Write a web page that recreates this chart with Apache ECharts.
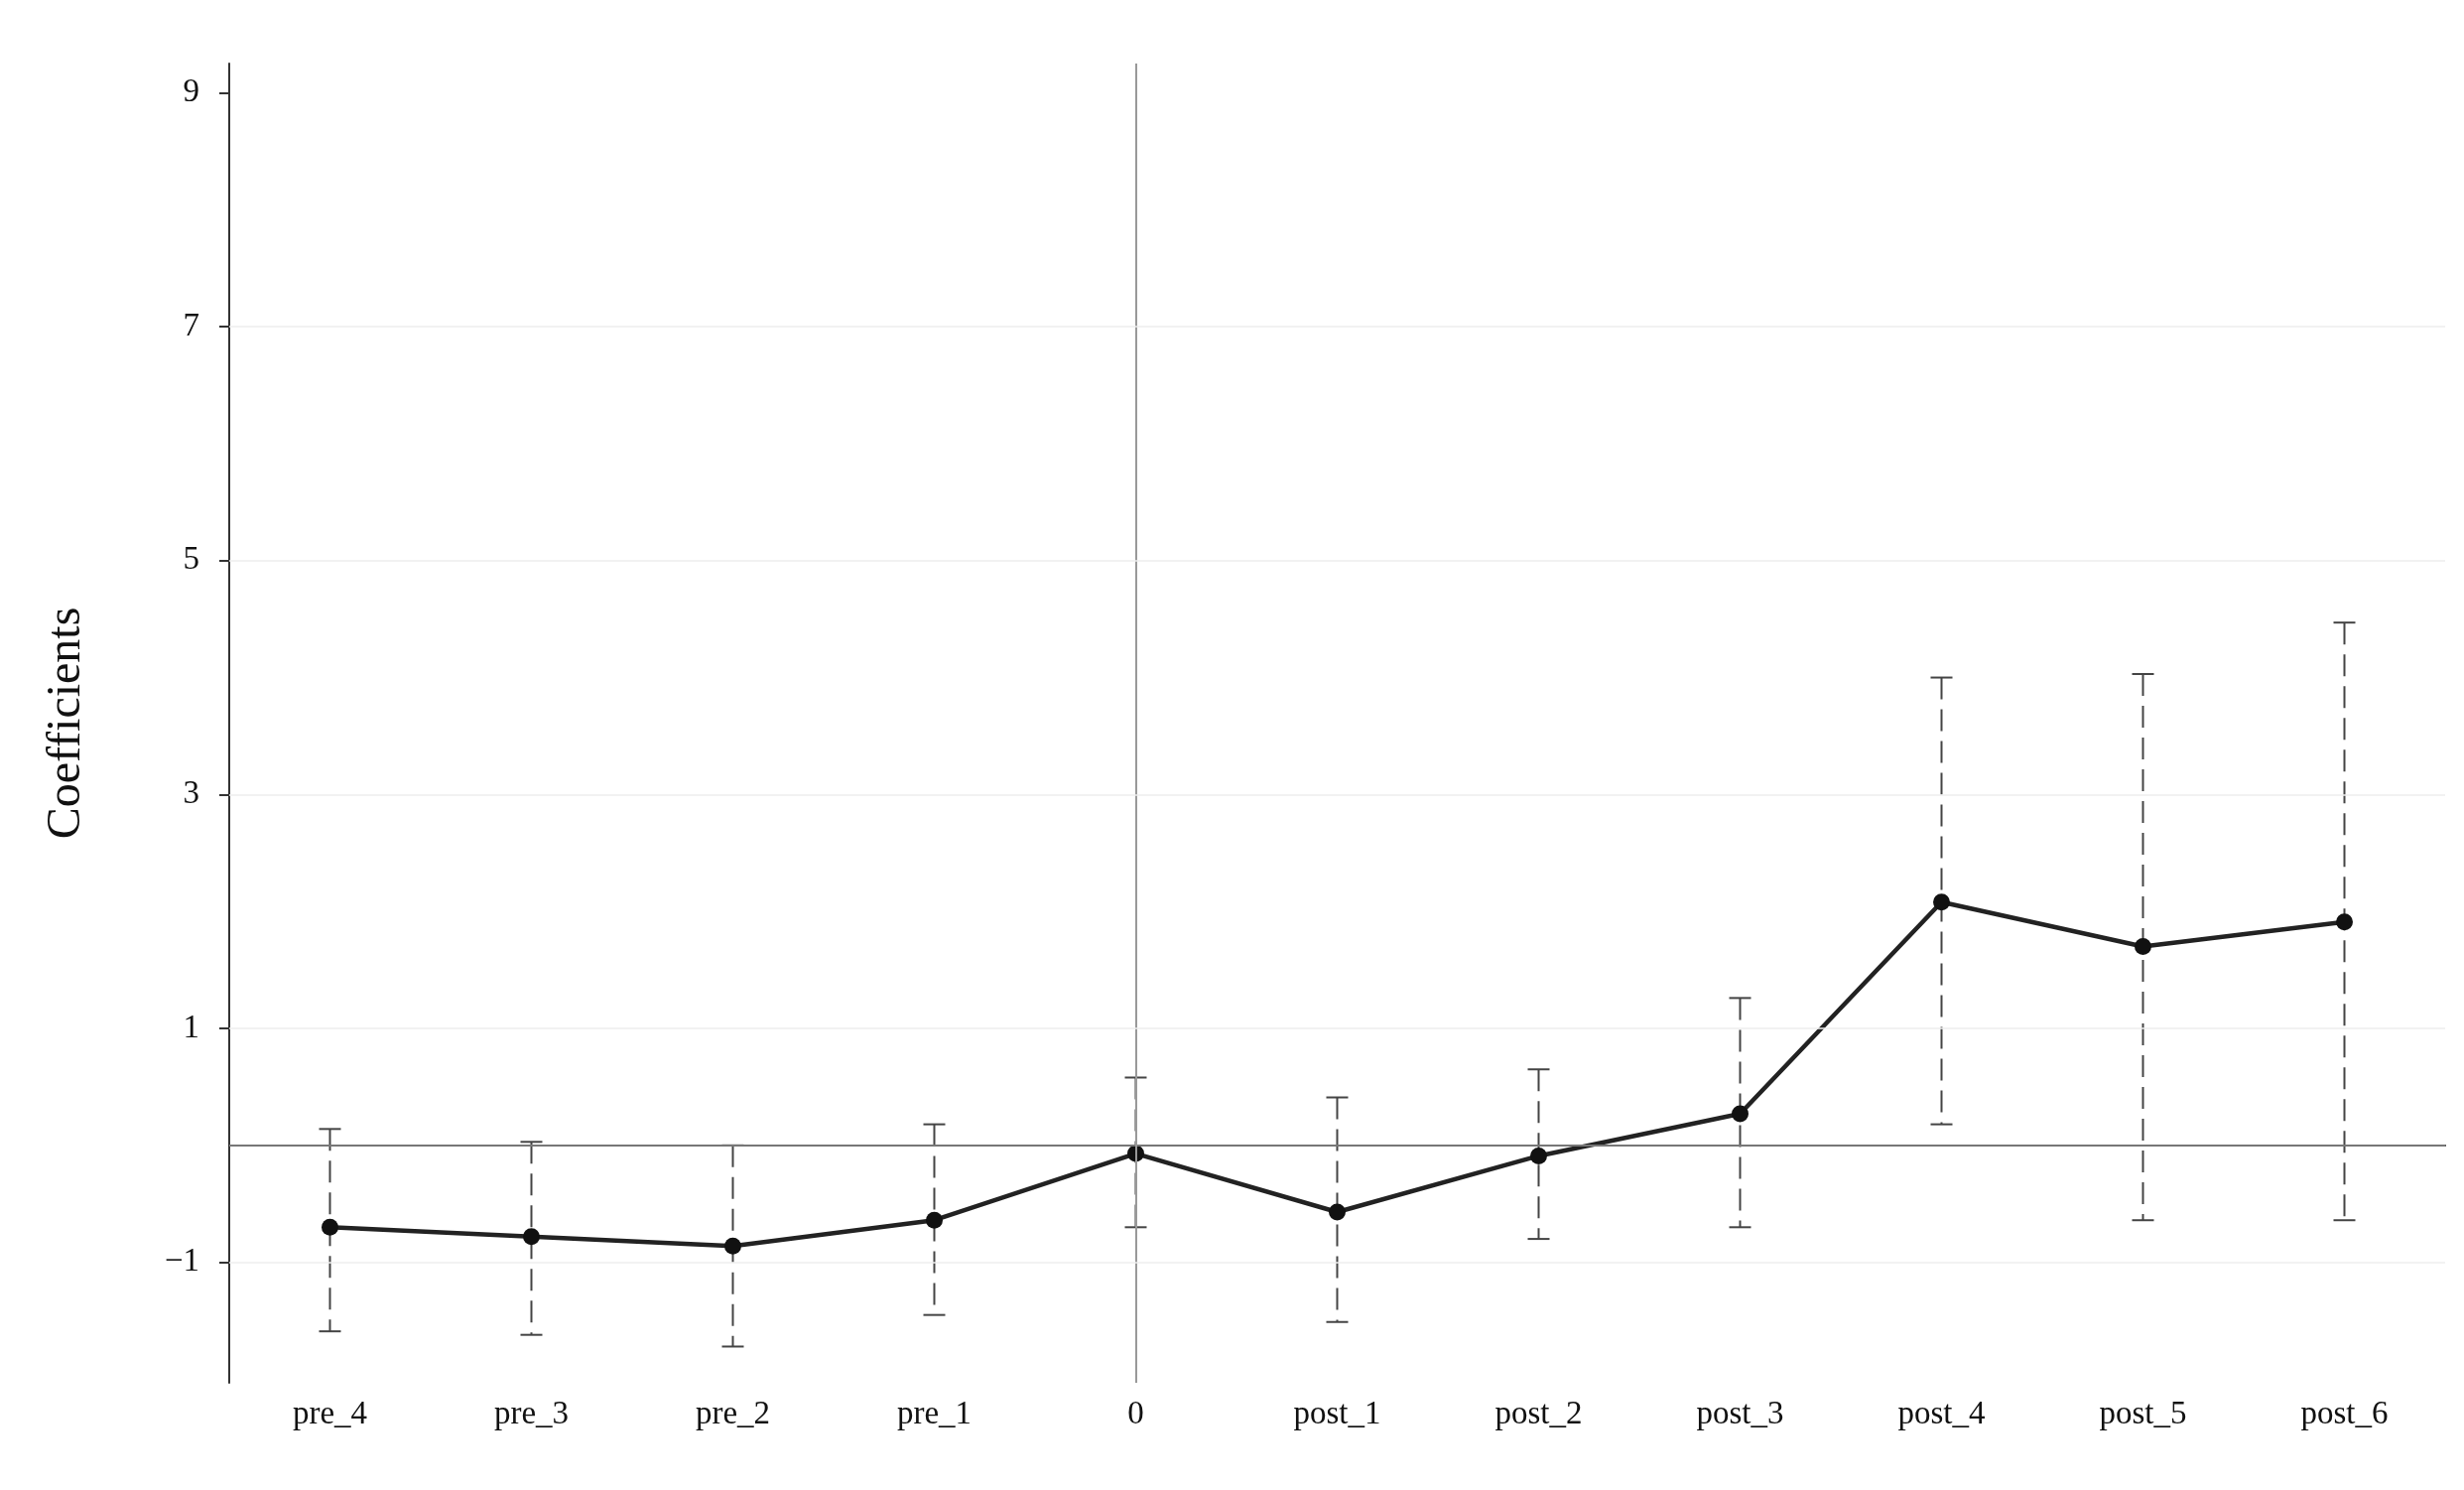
<!DOCTYPE html>
<html>
<head>
<meta charset="utf-8">
<script src="https://cdn.jsdelivr.net/npm/echarts@6/dist/echarts.min.js"></script>
<style>html,body{margin:0;padding:0;background:#fff;}#main{width:2483px;height:1501px;}</style>
</head>
<body>
<div id="main"></div>
<script>
var categories = ['pre_4', 'pre_3', 'pre_2', 'pre_1', '0', 'post_1', 'post_2', 'post_3', 'post_4', 'post_5', 'post_6'];
var coefs = [-0.70, -0.78, -0.86, -0.64, -0.07, -0.57, -0.09, 0.27, 2.08, 1.70, 1.91];
var upper = [0.14, 0.03, 0.00, 0.18, 0.58, 0.41, 0.65, 1.26, 4.00, 4.03, 4.47];
var lower = [-1.59, -1.62, -1.72, -1.45, -0.70, -1.51, -0.80, -0.70, 0.18, -0.64, -0.64];
var yTicks = [-1, 1, 3, 5, 7, 9];

var font = 'Liberation Serif';
var chart = echarts.init(document.getElementById('main'));

var ciData = [];
for (var i = 0; i < categories.length; i++) {
    ciData.push([i, lower[i], upper[i]]);
}

var option = {
    animation: false,
    grid: { left: 231, right: 19, top: 64, bottom: 108 },
    xAxis: {
        type: 'category',
        data: categories,
        boundaryGap: true,
        axisLine: { lineStyle: { color: '#333', width: 2 } },
        axisTick: { alignWithLabel: true, length: 10, lineStyle: { color: '#333', width: 2 } },
        axisLabel: { fontFamily: font, fontSize: 33, color: '#111', margin: 16 }
    },
    yAxis: {
        type: 'value',
        min: -2.03,
        max: 9.25,
        name: 'Coefficients',
        nameLocation: 'middle',
        nameGap: 140,
        nameTextStyle: { fontFamily: font, fontSize: 48, color: '#111' },
        axisLine: { show: true, lineStyle: { color: '#333', width: 2 } },
        axisTick: { show: true, customValues: yTicks, length: 10, lineStyle: { color: '#333', width: 2 } },
        axisLabel: {
            customValues: yTicks, fontFamily: font, fontSize: 33, color: '#111', margin: 30,
            formatter: function (v) { return v < 0 ? '\u2212' + Math.abs(v) : String(v); }
        },
        splitLine: { show: false }
    },
    series: [
        {
            type: 'custom',
            data: ciData,
            z: 2,
            renderItem: function (params, api) {
                var x = api.value(0);
                var lo = api.coord([x, api.value(1)]);
                var hi = api.coord([x, api.value(2)]);
                var cap = 11;
                var st = { stroke: '#444', lineWidth: 2 };
                return {
                    type: 'group',
                    children: [
                        { type: 'line', shape: { x1: hi[0], y1: hi[1], x2: lo[0], y2: lo[1] }, style: { stroke: '#444', lineWidth: 2, lineDash: [22, 10] } },
                        { type: 'line', shape: { x1: hi[0] - cap, y1: hi[1], x2: hi[0] + cap, y2: hi[1] }, style: st },
                        { type: 'line', shape: { x1: lo[0] - cap, y1: lo[1], x2: lo[0] + cap, y2: lo[1] }, style: st }
                    ]
                };
            }
        },
        {
            type: 'line',
            data: coefs,
            z: 3,
            symbol: 'circle',
            symbolSize: 17,
            itemStyle: { color: '#111' },
            lineStyle: { color: '#222', width: 4.5 },
            markLine: {
                silent: true,
                symbol: 'none',
                label: { show: false },
                data: [
                    { yAxis: 0, lineStyle: { color: '#777', width: 2, type: 'solid' } },
                    { xAxis: '0', lineStyle: { color: '#999', width: 2, type: 'solid' } },
                    { yAxis: -1, lineStyle: { color: '#eee', width: 1.5, type: 'solid' } },
                    { yAxis: 1, lineStyle: { color: '#eee', width: 1.5, type: 'solid' } },
                    { yAxis: 3, lineStyle: { color: '#eee', width: 1.5, type: 'solid' } },
                    { yAxis: 5, lineStyle: { color: '#eee', width: 1.5, type: 'solid' } },
                    { yAxis: 7, lineStyle: { color: '#eee', width: 1.5, type: 'solid' } }
                ]
            }
        }
    ]
};
chart.setOption(option);
</script>
</body>
</html>
